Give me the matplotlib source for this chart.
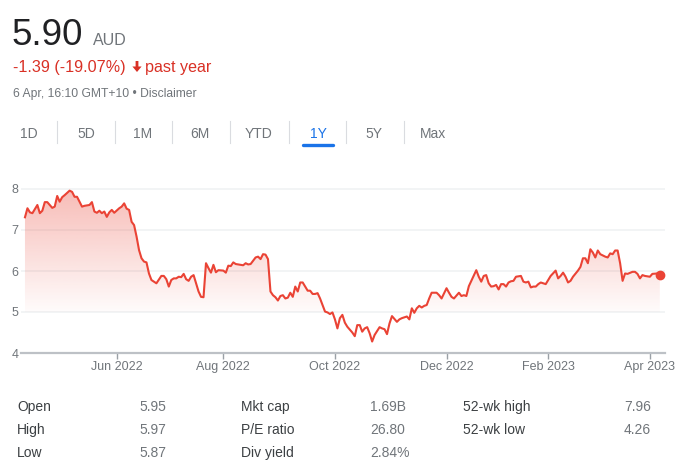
import numpy as np
import matplotlib
matplotlib.use('Agg')
import matplotlib.pyplot as plt
from matplotlib.path import Path
from matplotlib.lines import Line2D
from matplotlib.patches import Polygon
from matplotlib.colors import to_rgb

plt.rcParams['font.family'] = ['Liberation Sans', 'DejaVu Sans']

# trading-day index (0 = 6 Apr 2022) and price in AUD
days = [0, 1, 2, 3, 5, 6, 7, 8, 9, 11,
        12, 13, 14, 15, 16, 18, 19, 20, 21, 23,
        24, 26, 27, 28, 29, 30, 31, 32, 33, 34,
        35, 36, 38, 39, 40, 41, 42, 43, 44, 45,
        46, 47, 48, 49, 50, 51, 53, 55, 56, 57,
        58, 59, 60, 61, 62, 63, 64, 65, 66, 67,
        68, 70, 71, 72, 73, 74, 75, 76, 77, 78,
        80, 81, 82, 83, 84, 85, 87, 88, 89, 90,
        91, 93, 94, 95, 96, 97, 98, 99, 100, 101,
        102, 103, 104, 105, 106, 107, 108, 109, 110, 111,
        112, 113, 114, 115, 116, 117, 118, 119, 121, 122,
        123, 124, 125, 126, 127, 128, 129, 130, 132, 133,
        134, 135, 136, 137, 138, 139, 140, 141, 143, 144,
        145, 146, 147, 148, 150, 151, 152, 154, 155, 156,
        157, 158, 159, 160, 161, 162, 163, 164, 166, 167,
        168, 170, 171, 172, 173, 175, 176, 177, 178, 179,
        180, 182, 183, 184, 185, 186, 187, 188, 189, 190,
        191, 192, 193, 194, 195, 196, 197, 198, 200, 201,
        202, 203, 204, 205, 206, 207, 208, 210, 211, 212,
        214, 215, 216, 217, 218, 219, 220, 221, 223, 224,
        225, 226, 227, 228, 229, 230, 231, 232, 234, 235,
        236, 237, 238, 239, 240, 241, 242, 243, 245, 246,
        247, 248, 249, 250, 252, 253, 255, 256]
prices = [7.31, 7.53, 7.43, 7.41, 7.61, 7.41, 7.47, 7.68, 7.68, 7.54,
          7.57, 7.83, 7.69, 7.80, 7.85, 7.96, 7.93, 7.81, 7.81, 7.57,
          7.59, 7.61, 7.68, 7.45, 7.42, 7.47, 7.41, 7.45, 7.32, 7.43,
          7.49, 7.42, 7.53, 7.57, 7.65, 7.52, 7.49, 7.20, 7.12, 6.84,
          6.51, 6.31, 6.23, 6.21, 5.94, 5.78, 5.70, 5.88, 5.88, 5.80,
          5.62, 5.78, 5.82, 5.82, 5.86, 5.85, 5.93, 5.80, 5.76, 5.86,
          5.90, 5.50, 5.37, 5.36, 6.19, 6.07, 5.96, 6.15, 5.97, 6.02,
          6.01, 5.96, 6.13, 6.12, 6.21, 6.17, 6.15, 6.14, 6.19, 6.16,
          6.17, 6.33, 6.35, 6.29, 6.41, 6.40, 6.29, 5.50, 5.41, 5.36,
          5.28, 5.39, 5.41, 5.33, 5.35, 5.47, 5.37, 5.62, 5.50, 5.72,
          5.72, 5.62, 5.52, 5.52, 5.44, 5.44, 5.46, 5.33, 5.01, 4.99,
          4.95, 4.99, 4.82, 4.60, 4.85, 4.93, 4.74, 4.64, 4.50, 4.41,
          4.68, 4.68, 4.52, 4.60, 4.63, 4.48, 4.28, 4.44, 4.63, 4.60,
          4.58, 4.46, 4.72, 4.90, 4.76, 4.82, 4.85, 4.89, 4.82, 5.09,
          4.98, 5.09, 5.15, 5.11, 5.15, 5.17, 5.33, 5.47, 5.47, 5.41,
          5.33, 5.58, 5.47, 5.37, 5.33, 5.47, 5.39, 5.41, 5.39, 5.63,
          5.76, 6.02, 5.86, 5.74, 5.88, 5.90, 5.70, 5.62, 5.63, 5.66,
          5.55, 5.68, 5.68, 5.62, 5.72, 5.75, 5.76, 5.86, 5.88, 5.74,
          5.72, 5.74, 5.60, 5.62, 5.62, 5.68, 5.72, 5.68, 5.78, 5.88,
          6.01, 5.82, 5.88, 5.96, 5.86, 5.72, 5.76, 5.86, 6.01, 6.10,
          6.31, 6.31, 6.19, 6.53, 6.45, 6.33, 6.50, 6.41, 6.35, 6.33,
          6.43, 6.41, 6.50, 6.50, 6.19, 5.76, 5.94, 5.93, 5.98, 5.98,
          5.93, 5.82, 5.90, 5.88, 5.86, 5.93, 5.94, 5.90]

tick_days = [37, 80, 125, 170, 211, 252]
tick_labels = ['Jun 2022', 'Aug 2022', 'Oct 2022', 'Dec 2022', 'Feb 2023', 'Apr 2023']
y_ticks = [4, 5, 6, 7, 8]

tabs = ['1D', '5D', '1M', '6M', 'YTD', '1Y', '5Y', 'Max']
active_tab = '1Y'

stat_names = [['Open', 'High', 'Low'], ['Mkt cap', 'P/E ratio', 'Div yield'], ['52-wk high', '52-wk low']]
stat_values = [['5.95', '5.97', '5.87'], ['1.69B', '26.80', '2.84%'], ['7.96', '4.26']]

RED = '#ea4335'
DOWN = '#d93025'
GREY = '#70757a'
W, H = 685, 474

fig = plt.figure(figsize=(W / 100, H / 100), dpi=100)


def fx(x):
    return x / W


def fy(y):
    return 1 - y / H


# header
fig.text(fx(12), fy(45), '5.90', fontsize=26.5, color='#202124')
fig.text(fx(93), fy(45), 'AUD', fontsize=11.5, color=GREY)
fig.text(fx(13), fy(72), '-1.39 (-19.07%)', fontsize=11.6, color=DOWN)
# down arrow icon
ax_c, s_w, h_w = 137, 1.4, 4.6
arrow = [(ax_c - s_w, 61), (ax_c + s_w, 61), (ax_c + s_w, 66.5), (ax_c + h_w, 66.5),
         (ax_c, 72), (ax_c - h_w, 66.5), (ax_c - s_w, 66.5)]
fig.add_artist(Polygon([(fx(a), fy(b)) for a, b in arrow], closed=True,
                       facecolor=DOWN, edgecolor='none', transform=fig.transFigure))
fig.text(fx(145), fy(72), 'past year', fontsize=11.6, color=DOWN)
fig.text(fx(13), fy(97), '6 Apr, 16:10 GMT+10 \u2022 Disclaimer', fontsize=8.7, color=GREY)

# range tabs
tab_x = [29, 86, 143, 200, 259, 318, 374, 433]
for i, (name, x) in enumerate(zip(tabs, tab_x)):
    fig.text(fx(x), fy(137.5), name, fontsize=10, ha='center',
             color='#1a73e8' if name == active_tab else GREY)
    if i < len(tabs) - 1:
        sx = (x + tab_x[i + 1]) / 2
        fig.add_artist(Line2D([fx(sx), fx(sx)], [fy(121), fy(143)], color='#dadce0', lw=0.8))
ux = tab_x[tabs.index(active_tab)]
fig.add_artist(Line2D([fx(ux - 15), fx(ux + 15)], [fy(144.5), fy(144.5)], color='#1a73e8',
                      lw=2.4, solid_capstyle='round'))

# chart
ax = fig.add_axes([fx(21), fy(353), (665 - 21) / W, (353 - 180.8) / H])
x0, x1 = -1.6, 258.1
for v in y_ticks[1:]:
    ax.axhline(v, color='#f1f3f4', lw=1.3, zorder=0)

poly = ax.fill_between(days, prices, 5.0, color='none', lw=0)
clip = Path.make_compound_path(*poly.get_paths())
rgba = np.zeros((256, 1, 4))
rgba[..., :3] = to_rgb(RED)
rgba[:, 0, 3] = np.linspace(0.36, 0.02, 256)
im = ax.imshow(rgba, extent=[x0, x1, 5.0, 8.0], aspect='auto', origin='upper', zorder=1)
im.set_clip_path(clip, transform=ax.transData)

ax.plot(days, prices, color=RED, lw=1.5, zorder=3, solid_joinstyle='round')
ax.plot(days[-1], prices[-1], 'o', color=RED, ms=6, zorder=4)

ax.set_xlim(x0, x1)
ax.set_ylim(4, 8.2)
for s in ['top', 'right', 'left']:
    ax.spines[s].set_visible(False)
ax.spines['bottom'].set_color('#bdc1c6')
ax.spines['bottom'].set_linewidth(1.6)
ax.set_yticks(y_ticks)
ax.set_yticklabels([str(v) for v in y_ticks])
ax.set_xticks(tick_days)
ax.set_xticklabels(tick_labels)
ax.tick_params(axis='y', length=0, pad=2, labelsize=9, labelcolor=GREY)
ax.tick_params(axis='x', length=4, width=1, color='#9aa0a6', pad=1.5, labelsize=9, labelcolor=GREY)

# key stats
col_x = [(17, 139), (241, 370), (463, 624)]
row_y = [411, 434, 457]
for (lx, vx), names, vals in zip(col_x, stat_names, stat_values):
    for y, n, v in zip(row_y, names, vals):
        fig.text(fx(lx), fy(y), n, fontsize=10, color='#3c4043')
        fig.text(fx(vx), fy(y), v, fontsize=10, color=GREY)

fig.savefig('out.png', dpi=100)
